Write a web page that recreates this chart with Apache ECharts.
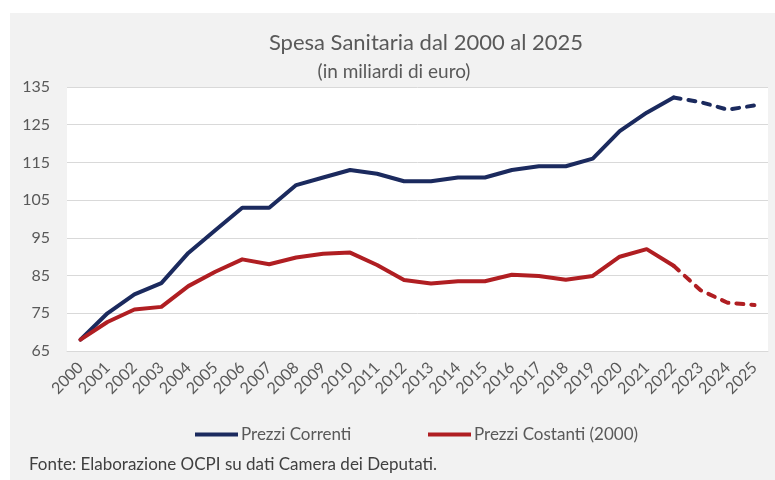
<!DOCTYPE html>
<html>
<head>
<meta charset="utf-8">
<script src="https://cdn.jsdelivr.net/npm/echarts@6/dist/echarts.min.js"></script>
<style>
  html, body { margin: 0; padding: 0; background: #ffffff; }
  #panel { position: absolute; left: 10px; top: 13px; width: 765px; height: 467px; background: #f2f2f2; }
  #chart { position: absolute; left: 0; top: 0; width: 775px; height: 480px; }
</style>
</head>
<body>
<div id="panel"></div>
<div id="chart"></div>
<script>
// Years on the category axis
const years = ['2000','2001','2002','2003','2004','2005','2006','2007','2008','2009',
  '2010','2011','2012','2013','2014','2015','2016','2017','2018','2019',
  '2020','2021','2022','2023','2024','2025'];

// Health spending, billions of euro, current prices
const prezziCorrenti = [68, 75, 80, 83, 91, 97, 103, 103, 109, 111,
  113, 112, 110, 110, 111, 111, 113, 114, 114, 116,
  123.3, 128.2, 132.2, 131, 129, 130.1];

// Health spending, billions of euro, constant 2000 prices
const prezziCostanti = [68, 72.7, 76, 76.7, 82.2, 86, 89.3, 88, 89.8, 90.8,
  91.1, 87.8, 83.8, 82.9, 83.5, 83.5, 85.2, 84.9, 83.9, 84.9,
  90, 92, 87.6, 81.1, 77.8, 77.2];

// Last year with final data; later years are projections (dashed)
const lastActualYear = '2022';

const yTicks = { min: 65, max: 135, step: 10 };

const cut = years.indexOf(lastActualYear);
const actual = arr => arr.map((v, i) => (i <= cut ? v : null));
const forecast = arr => arr.map((v, i) => (i >= cut ? v : null));

const BLUE = '#1b2a5e';
const RED = '#b01e22';
const FONT = 'Lato, "Open Sans", sans-serif';
const TEXT = '#595959';

const chart = echarts.init(document.getElementById('chart'));

const lineSeries = (name, data, color, dashed) => ({
  name, type: 'line', data,
  showSymbol: false, symbol: 'none',
  connectNulls: false,
  lineStyle: dashed
    ? { color, width: 4, type: [7, 8], cap: 'round' }
    : { color, width: 4, cap: 'round', join: 'round' },
  itemStyle: { color },
  emphasis: { disabled: true },
  animation: false
});

chart.setOption({
  backgroundColor: 'transparent',
  textStyle: { fontFamily: FONT },
  title: [
    { text: 'Spesa Sanitaria dal 2000 al 2025', left: 421, top: 27, textAlign: 'center',
      textStyle: { fontFamily: FONT, fontSize: 22, fontWeight: 'normal', color: TEXT } },
    { text: '(in miliardi di euro)', left: 389, top: 57, textAlign: 'center',
      textStyle: { fontFamily: FONT, fontSize: 19, fontWeight: 'normal', color: TEXT } },
    { text: 'Fonte: Elaborazione OCPI su dati Camera dei Deputati.', left: 24, top: 451,
      textStyle: { fontFamily: FONT, fontSize: 17, fontWeight: 'normal', color: '#404040' } }
  ],
  legend: [
    { data: ['Prezzi Correnti'], left: 190, top: 421, itemWidth: 43, itemHeight: 4,
      icon: 'rect', itemGap: 4,
      textStyle: { fontFamily: FONT, fontSize: 17, color: TEXT, padding: [0, 0, 0, -2] } },
    { data: ['Prezzi Costanti (2000)'], left: 423, top: 421, itemWidth: 43, itemHeight: 4,
      icon: 'rect', itemGap: 4,
      textStyle: { fontFamily: FONT, fontSize: 17, color: TEXT, padding: [0, 0, 0, -2] } }
  ],
  grid: { left: 67, right: 7, top: 87, bottom: 129, show: true, backgroundColor: '#ffffff', borderWidth: 0 },
  xAxis: {
    type: 'category', data: years, boundaryGap: true,
    axisLine: { show: true, lineStyle: { color: '#d9d9d9', width: 1 } },
    axisTick: { show: false },
    axisLabel: { rotate: 45, fontSize: 16, color: TEXT, fontFamily: FONT, margin: 14, interval: 0 }
  },
  yAxis: {
    type: 'value', min: yTicks.min, max: yTicks.max, interval: yTicks.step,
    axisLine: { show: false }, axisTick: { show: false },
    splitLine: { lineStyle: { color: '#d9d9d9', width: 1 } },
    axisLabel: { fontSize: 16, color: TEXT, fontFamily: FONT, margin: 17 }
  },
  series: [
    lineSeries('Prezzi Correnti', actual(prezziCorrenti), BLUE, false),
    lineSeries('Prezzi Correnti (stima)', forecast(prezziCorrenti), BLUE, true),
    lineSeries('Prezzi Costanti (2000)', actual(prezziCostanti), RED, false),
    lineSeries('Prezzi Costanti (2000) (stima)', forecast(prezziCostanti), RED, true)
  ]
});
</script>
</body>
</html>
